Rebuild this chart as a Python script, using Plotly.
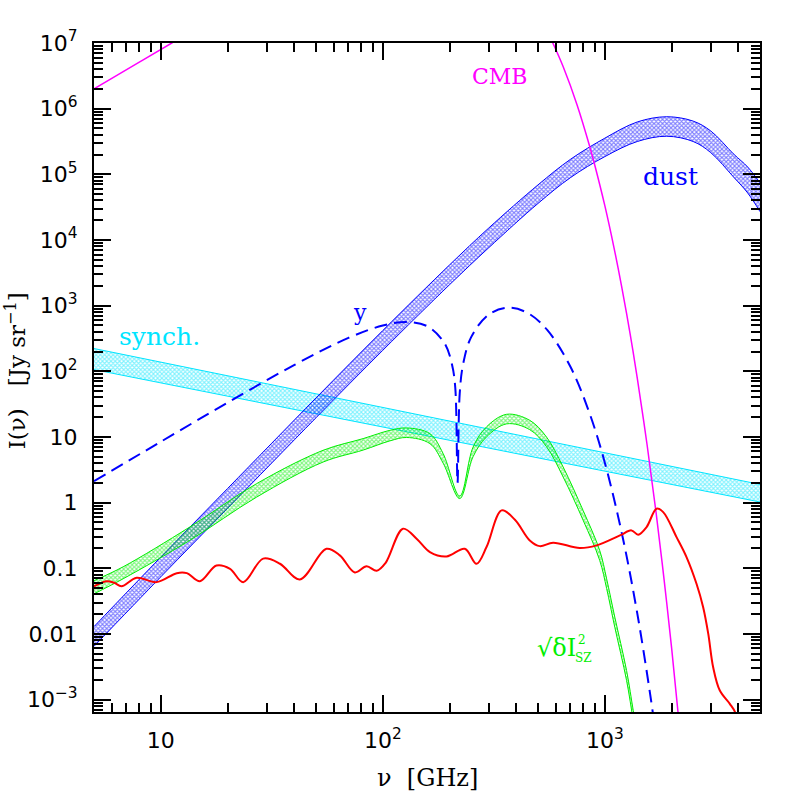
import numpy as np
import plotly.graph_objects as go

# Frecuencias (GHz) y brillos (Jy/sr)
nu_synch = [5, 5000]
synch_hi = [222, 1.89]
synch_lo = [106, 1.02]

nu_dust = [5, 10, 20, 50, 100, 200, 300, 500, 700, 1000, 1400, 1900, 2500, 3000, 3800, 4400, 5000]
dust_hi = [0.0129, 0.148, 1.64, 39.2, 418, 4180, 1.52e4, 6.9e4, 1.69e5, 3.55e5, 6.27e5,
           7.53e5, 6.46e5, 4.57e5, 2.04e5, 1.29e5, 7.4e4]
dust_lo = [0.00646, 0.0741, 0.82, 19.6, 209, 2090, 7620, 3.6e4, 8.9e4, 1.86e5, 3.16e5,
           3.8e5, 3.16e5, 2.14e5, 9.1e4, 5.2e4, 2.7e4]

nu_cmb = [5, 8, 11.2, 13, 14, 520, 583, 650, 750, 855, 900, 1000, 1100, 1189, 1300,
          1400, 1550, 1700, 1850, 2000, 2200]
cmb = [2.0e6, 5.1e6, 1.0e7, 1.35e7, None, 2.2e7, 1.0e7, 4.3e6, 1.14e6, 2.65e5, 1.40e5,
       3.33e4, 7.6e3, 2.0e3, 372, 78.8, 7.6, 0.72, 0.066, 6.0e-3, 2.35e-4]

nu_y = [5, 10, 20, 40, 70, 100, 130, 160, 190, 205, 212, 217, 222, 230, 250, 300, 370,
        450, 550, 700, 850, 1000, 1200, 1400, 1600, 1700]
y_sz = [2.12, 8.45, 33.3, 125, 322, 497, 564, 478, 265, 126, 56, 2.0, 46, 129, 331, 732,
        929, 769, 426, 117, 23.8, 4.05, 0.31, 0.0205, 1.21e-3, 2.8e-4]

nu_dsz = [5, 6.76, 13.5, 27.0, 53.8, 81.5, 107.6, 128, 163, 187, 222, 255, 293, 361, 459,
          546, 649, 798, 948, 1019, 1109, 1253, 1343, 1413]
dsz_hi = [0.0646, 0.105, 0.424, 1.94, 6.25, 9.42, 12.6, 13.7, 11.2, 5.56, 1.26, 7.0, 14.2,
          22.1, 17.9, 9.98, 3.48, 0.76, 0.187, 0.069, 0.018, 2.77e-3, 6.8e-4, 2.5e-4]
dsz_lo = [0.0407, 0.069, 0.265, 1.21, 4.14, 6.3, 8.7, 9.8, 7.9, 3.98, 1.15, 5.0, 10.0,
          15.8, 12.9, 7.1, 2.45, 0.54, 0.132, 0.049, 0.0126, 1.95e-3, 4.8e-4, 1.8e-4]

nu_noise = [5.0, 5.69, 6.17, 6.65, 7.78, 9.57, 11.8, 13.1, 15.0, 17.8, 20.5, 23.5, 28.9,
            34.4, 42.3, 55.7, 64.0, 74.8, 84.5, 93.8, 102.8, 123.3, 141.9, 163, 193.6,
            233.9, 264.2, 293.1, 342.8, 393.6, 459.2, 509.3, 584.8, 770.9, 918.4, 1169.5,
            1318, 1413, 1542, 1710, 1832, 2104, 2333, 2588, 2773, 2924, 3076, 3296, 3656,
            3855, 4000]
noise = [0.053, 0.0635, 0.060, 0.053, 0.0716, 0.0614, 0.0841, 0.0841, 0.0635, 0.110, 0.098,
         0.0614, 0.140, 0.117, 0.0675, 0.198, 0.157, 0.0863, 0.107, 0.0914, 0.120, 0.40,
         0.282, 0.176, 0.151, 0.198, 0.117, 0.21, 0.76, 0.548, 0.265, 0.217, 0.245, 0.203,
         0.223, 0.316, 0.377, 0.324, 0.424, 0.807, 0.716, 0.298, 0.148, 0.058, 0.0255, 0.01,
         3.1e-3, 1.37e-3, 8.6e-4, 6.5e-4, 4.0e-4]

fig = go.Figure()


def banda(nu, lo, hi, color):
    # banda rayada entre dos bordes
    fig.add_trace(go.Scatter(x=nu, y=lo, mode='lines', line=dict(color=color, width=1),
                             line_shape='spline', showlegend=False, hoverinfo='skip'))
    fig.add_trace(go.Scatter(x=nu, y=hi, mode='lines', line=dict(color=color, width=1),
                             line_shape='spline', fill='tonexty', fillcolor='rgba(0,0,0,0)',
                             fillpattern=dict(shape='x', fgcolor=color, size=3, solidity=0.6),
                             showlegend=False, hoverinfo='skip'))


banda(nu_synch, synch_lo, synch_hi, '#00e5ff')
banda(nu_dust, dust_lo, dust_hi, '#0000ff')
banda(nu_dsz, dsz_lo, dsz_hi, '#00ee00')

fig.add_trace(go.Scatter(x=nu_y, y=y_sz, mode='lines', line_shape='spline',
                         line=dict(color='#0000ff', width=2, dash='13px,7px'), showlegend=False))
fig.add_trace(go.Scatter(x=nu_cmb, y=cmb, mode='lines', line_shape='spline', connectgaps=False,
                         line=dict(color='#ff00ff', width=1.5), showlegend=False))
fig.add_trace(go.Scatter(x=nu_noise, y=noise, mode='lines', line_shape='spline',
                         line=dict(color='#ff0000', width=2), showlegend=False))

minor_x = [m * 10 ** e for e in range(0, 4) for m in range(2, 10)]
minor_y = [m * 10.0 ** e for e in range(-4, 7) for m in range(2, 10)]

ejes = dict(type='log', showline=True, linewidth=2, linecolor='black', mirror='allticks',
            ticks='inside', ticklen=17, tickwidth=1.5, tickcolor='black', showgrid=False,
            zeroline=False, automargin=False,
            tickfont=dict(family='DejaVu Sans', size=22, color='black'))

fig.update_xaxes(**ejes, range=[np.log10(5), np.log10(5000)],
                 tickvals=[10, 100, 1000], ticktext=['10', '10<sup>2</sup>', '10<sup>3</sup>'],
                 ticklabelstandoff=8,
                 minor=dict(tickvals=minor_x, ticks='inside', ticklen=9, tickwidth=1.5,
                            tickcolor='black', showgrid=False))
fig.update_yaxes(**ejes, range=[-3.19, 7],
                 tickvals=[1e-3, 1e-2, 0.1, 1, 10, 100, 1e3, 1e4, 1e5, 1e6, 1e7],
                 ticktext=['10<sup>\u22123</sup>', '0.01', '0.1', '1', '10', '10<sup>2</sup>',
                           '10<sup>3</sup>', '10<sup>4</sup>', '10<sup>5</sup>',
                           '10<sup>6</sup>', '10<sup>7</sup>'],
                 ticklabelstandoff=10,
                 minor=dict(tickvals=minor_y, ticks='inside', ticklen=9, tickwidth=1.5,
                            tickcolor='black', showgrid=False))

serif = 'DejaVu Serif'
textos = [
    # (texto, x log, y log, color, tamano)
    ('CMB', 2.527, 6.497, '#ff00ff', 22),
    ('dust', 3.297, 4.973, '#0000ff', 25),
    ('synch.', 0.995, 2.53, '#00e5ff', 25),
    ('y', 1.896, 2.90, '#0000ff', 22),
]
for t, lx, ly, c, s in textos:
    fig.add_annotation(x=lx, y=ly, xref='x', yref='y', text=t, showarrow=False,
                       font=dict(family=serif, size=s, color=c))

# etiqueta sqrt(dI^2_SZ)
fig.add_annotation(x=2.784, y=-2.22, xref='x', yref='y', text='\u221a\u03b4I', showarrow=False,
                   font=dict(family=serif, size=24, color='#00ee00'))
fig.add_annotation(x=2.898, y=-2.10, xref='x', yref='y', text='2', showarrow=False,
                   font=dict(family=serif, size=12, color='#00ee00'))
fig.add_annotation(x=2.903, y=-2.37, xref='x', yref='y', text='SZ', showarrow=False,
                   font=dict(family=serif, size=12, color='#00ee00'))

# titulos de los ejes
fig.add_annotation(x=-0.118, y=0.51, xref='paper', yref='paper', textangle=-90,
                   xanchor='center', yanchor='middle',
                   text='I(\u03bd)   [Jy sr<sup>\u22121</sup>]', showarrow=False,
                   font=dict(family=serif, size=23, color='black'))
fig.add_annotation(x=0.50, y=-0.098, xref='paper', yref='paper',
                   xanchor='center', yanchor='middle',
                   text='\u03bd  [GHz]', showarrow=False,
                   font=dict(family=serif, size=24, color='black'))

fig.update_layout(width=797, height=797, margin=dict(l=94, r=37, t=43, b=85),
                  plot_bgcolor='white', paper_bgcolor='white', showlegend=False)

fig.write_html("out.html", config={'displayModeBar': False},
               post_script="document.body.style.margin='0px';")
